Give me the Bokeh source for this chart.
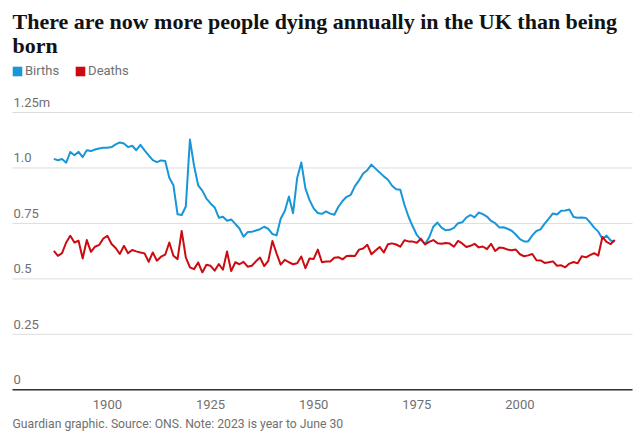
from bokeh.plotting import figure
from bokeh.models import Legend, LegendItem, Label, Range1d
from bokeh.embed import file_html
from bokeh.resources import INLINE
from bokeh.core.properties import value

# ---- data (UK, millions) ----
years = list(range(1887, 2024))

births = [
    1.041, 1.035, 1.040, 1.024, 1.072, 1.057, 1.073, 1.049, 1.080, 1.076,   # 1887-1896
    1.083, 1.088, 1.091, 1.091, 1.094, 1.106, 1.115, 1.110, 1.094, 1.100,   # 1897-1906
    1.080, 1.104, 1.079, 1.057, 1.035, 1.026, 1.034, 1.031, 0.956, 0.922,   # 1907-1916
    0.791, 0.788, 0.826, 1.128, 1.010, 0.922, 0.898, 0.862, 0.840, 0.822,   # 1917-1926
    0.776, 0.780, 0.762, 0.768, 0.748, 0.727, 0.690, 0.711, 0.712, 0.718,   # 1927-1936
    0.724, 0.735, 0.725, 0.702, 0.696, 0.771, 0.806, 0.871, 0.796, 0.955,   # 1937-1946
    1.025, 0.908, 0.855, 0.818, 0.797, 0.793, 0.804, 0.794, 0.789, 0.825,   # 1947-1956
    0.851, 0.870, 0.879, 0.918, 0.944, 0.975, 0.990, 1.015, 0.997, 0.980,   # 1957-1966
    0.962, 0.947, 0.920, 0.904, 0.902, 0.834, 0.780, 0.737, 0.698, 0.676,   # 1967-1976
    0.657, 0.687, 0.735, 0.754, 0.731, 0.719, 0.721, 0.730, 0.751, 0.755,   # 1977-1986
    0.776, 0.788, 0.777, 0.799, 0.792, 0.781, 0.761, 0.751, 0.732, 0.733,   # 1987-1996
    0.726, 0.717, 0.700, 0.679, 0.669, 0.669, 0.696, 0.716, 0.723, 0.749,   # 1997-2006
    0.772, 0.795, 0.790, 0.807, 0.808, 0.813, 0.779, 0.776, 0.777, 0.775,   # 2007-2016
    0.755, 0.731, 0.713, 0.681, 0.695, 0.673, 0.668,                        # 2017-2023
]

deaths = [
    0.626, 0.604, 0.616, 0.664, 0.694, 0.664, 0.672, 0.592, 0.675, 0.622,   # 1887-1896
    0.645, 0.653, 0.682, 0.694, 0.657, 0.639, 0.612, 0.649, 0.616, 0.630,   # 1897-1906
    0.624, 0.619, 0.615, 0.577, 0.619, 0.582, 0.600, 0.609, 0.664, 0.604,   # 1907-1916
    0.589, 0.716, 0.597, 0.552, 0.544, 0.574, 0.529, 0.564, 0.559, 0.537,   # 1917-1926
    0.567, 0.541, 0.623, 0.535, 0.575, 0.566, 0.577, 0.555, 0.559, 0.579,   # 1927-1936
    0.596, 0.558, 0.581, 0.671, 0.615, 0.564, 0.586, 0.575, 0.566, 0.570,   # 1937-1946
    0.601, 0.548, 0.592, 0.590, 0.632, 0.575, 0.578, 0.578, 0.595, 0.598,   # 1947-1956
    0.588, 0.603, 0.604, 0.603, 0.632, 0.637, 0.654, 0.611, 0.628, 0.644,   # 1957-1966
    0.619, 0.656, 0.660, 0.655, 0.645, 0.674, 0.669, 0.668, 0.663, 0.681,   # 1967-1976
    0.655, 0.667, 0.675, 0.661, 0.658, 0.662, 0.659, 0.645, 0.671, 0.660,   # 1977-1986
    0.644, 0.649, 0.658, 0.642, 0.646, 0.634, 0.658, 0.626, 0.641, 0.639,   # 1987-1996
    0.632, 0.629, 0.632, 0.611, 0.602, 0.606, 0.612, 0.584, 0.583, 0.572,   # 1997-2006
    0.575, 0.579, 0.559, 0.561, 0.552, 0.569, 0.576, 0.570, 0.602, 0.597,   # 2007-2016
    0.607, 0.616, 0.605, 0.689, 0.667, 0.657, 0.675,                        # 2017-2023
]

y_ticks = [0, 0.25, 0.5, 0.75, 1.0, 1.25]
y_tick_labels = ["0", "0.25", "0.5", "0.75", "1.0", "1.25m"]
x_ticks = [1900, 1925, 1950, 1975, 2000]
x_tick_labels = ["1900", "1925", "1950", "1975", "2000"]

title_line1 = "There are now more people dying annually in the UK than being"
title_line2 = "born"
footer = "Guardian graphic. Source: ONS. Note: 2023 is year to June 30"
series_names = ["Births", "Deaths"]

BLUE = "#1896d7"
RED = "#cc0a11"
GREY = "#707070"
INK = "#121212"
SANS = "Roboto"
SERIF = "Liberation Serif"
NAN = float("nan")

# Bokeh's standalone page template has no body margin, so the canvas fills the window
W, H = 641, 437
PX_PER_YEAR = 4.125
x_start = 1874.079
x_end = x_start + W / PX_PER_YEAR
grid_x0 = x_start + 12 / PX_PER_YEAR
grid_x1 = x_start + 632 / PX_PER_YEAR
y_start, y_end = -0.21502, 1.75487

p = figure(width=W, height=H, output_backend="svg", toolbar_location=None,
           x_range=Range1d(x_start, x_end), y_range=Range1d(y_start, y_end),
           x_axis_location=None, y_axis_location=None, min_border=0)

p.outline_line_color = None
p.background_fill_color = "white"
p.border_fill_color = "white"
p.grid.visible = False

n = len(y_ticks)
# horizontal gridlines and the dark zero baseline
p.segment(x0=[grid_x0] * n, y0=y_ticks, x1=[grid_x1] * n, y1=y_ticks,
          line_color="#dcdcdc", line_width=1)
p.segment(x0=[grid_x0], y0=[y_ticks[0]], x1=[grid_x1], y1=[y_ticks[0]],
          line_color="#333333", line_width=1.6)

# y labels above gridlines
p.text(x=[grid_x0] * n, y=y_ticks, text=y_tick_labels,
       text_font=value(SANS), text_font_size="13px", text_color=GREY,
       text_baseline="alphabetic", text_align="left", x_offset=1, y_offset=-10)

# x labels below the baseline
p.text(x=x_ticks, y=[y_ticks[0]] * len(x_ticks), text=x_tick_labels,
       text_font=value(SANS), text_font_size="13px", text_color=GREY,
       text_baseline="alphabetic", text_align="center", y_offset=15)

# lines
p.line(years, births, line_color=BLUE, line_width=2, line_join="round")
p.line(years, deaths, line_color=RED, line_width=2, line_join="round")

# legend with square swatches (renderers hold one NaN row so they draw nothing on the plot)
rb = p.quad(left=[NAN], right=[NAN], top=[NAN], bottom=[NAN], fill_color=BLUE, line_color=None)
rd = p.quad(left=[NAN], right=[NAN], top=[NAN], bottom=[NAN], fill_color=RED, line_color=None)
legend = Legend(items=[LegendItem(label=series_names[0], renderers=[rb]),
                       LegendItem(label=series_names[1], renderers=[rd])],
                location=(11, H - 78), orientation="horizontal",
                background_fill_alpha=0, border_line_alpha=0,
                glyph_width=12, glyph_height=12, label_height=14,
                label_standoff=2, spacing=15, padding=0, margin=0,
                label_text_font=SANS, label_text_font_size="13px",
                label_text_color=GREY)
p.add_layout(legend)

# title lines and footer (screen units measured from the bottom-left of the canvas)
for txt, yy in [(title_line1, H - 21), (title_line2, H - 45)]:
    p.add_layout(Label(x=12, y=yy, x_units="screen", y_units="screen", text=txt,
                       text_font=SERIF, text_font_style="bold", text_font_size="22px",
                       text_color=INK, text_baseline="alphabetic", text_align="left"))

p.add_layout(Label(x=12, y=14, x_units="screen", y_units="screen", text=footer,
                   text_font=SANS, text_font_size="12.2px", text_color=GREY,
                   text_baseline="alphabetic", text_align="left"))

open("out.html", "w").write(file_html(p, INLINE))
